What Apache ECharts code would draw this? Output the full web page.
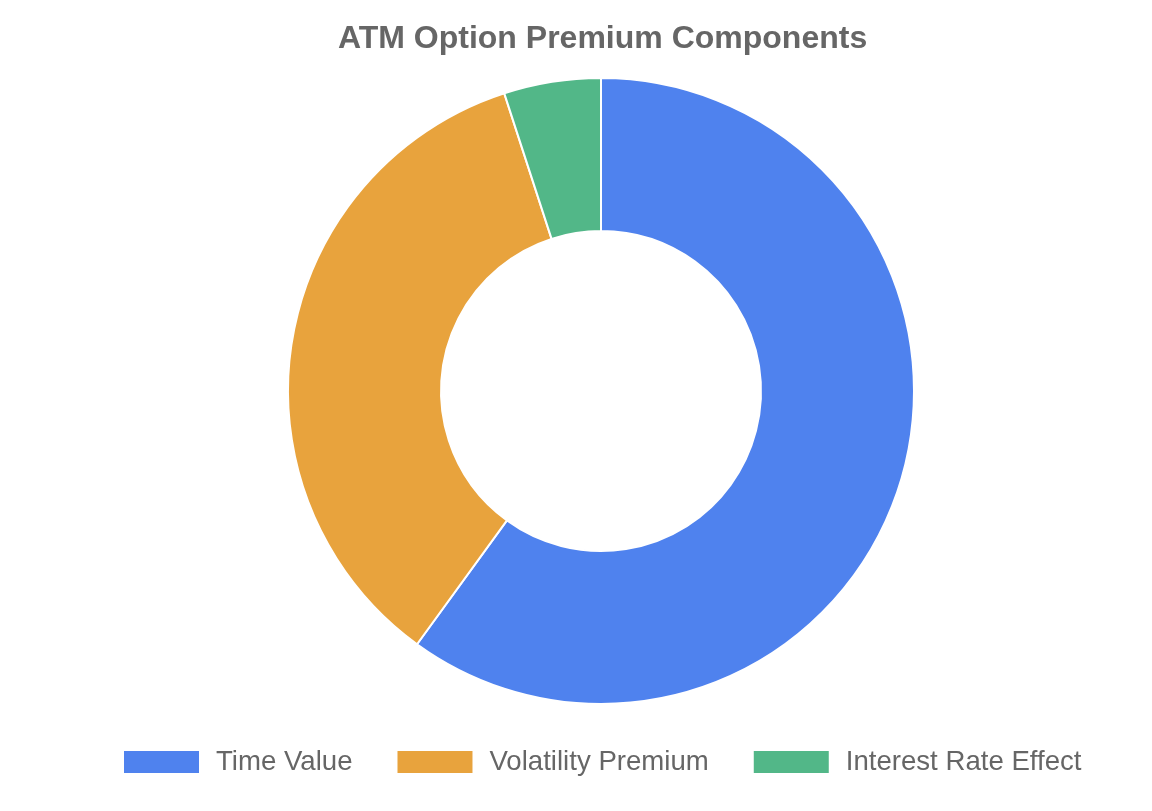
<!DOCTYPE html>
<html>
<head>
<meta charset="utf-8">
<script src="https://cdn.jsdelivr.net/npm/echarts@6/dist/echarts.min.js"></script>
<style>
html,body{margin:0;padding:0;background:#fff;}
#chart{width:1152px;height:811px;}
</style>
</head>
<body>
<div id="chart"></div>
<script>
const categories = ['Time Value', 'Volatility Premium', 'Interest Rate Effect'];
const values = [60, 35, 5];
const colors = ['#4F82EE', '#E8A33D', '#52B788'];

const chart = echarts.init(document.getElementById('chart'));
chart.setOption({
  animation: false,
  title: {
    text: 'ATM Option Premium Components',
    left: 333,
    top: 18,
    textStyle: {
      fontFamily: '"Liberation Sans", Arial, Helvetica, sans-serif',
      fontSize: 32,
      fontWeight: 'bold',
      color: '#666666',
      lineHeight: 32
    }
  },
  legend: {
    data: categories,
    left: 117,
    top: 743,
    icon: 'rect',
    itemWidth: 77,
    itemHeight: 24,
    itemGap: 43,
    selectedMode: false,
    textStyle: {
      fontFamily: '"Liberation Sans", Arial, Helvetica, sans-serif',
      fontSize: 27.6,
      color: '#666666',
      padding: [0, 0, 0, 11]
    }
  },
  series: [{
    type: 'pie',
    center: [601, 391],
    radius: [160, 313],
    startAngle: 90,
    clockwise: true,
    label: { show: false },
    labelLine: { show: false },
    itemStyle: { borderColor: '#ffffff', borderWidth: 2 },
    emphasis: { scale: false },
    data: categories.map((c, i) => ({ name: c, value: values[i], itemStyle: { color: colors[i] } }))
  }]
});
</script>
</body>
</html>
